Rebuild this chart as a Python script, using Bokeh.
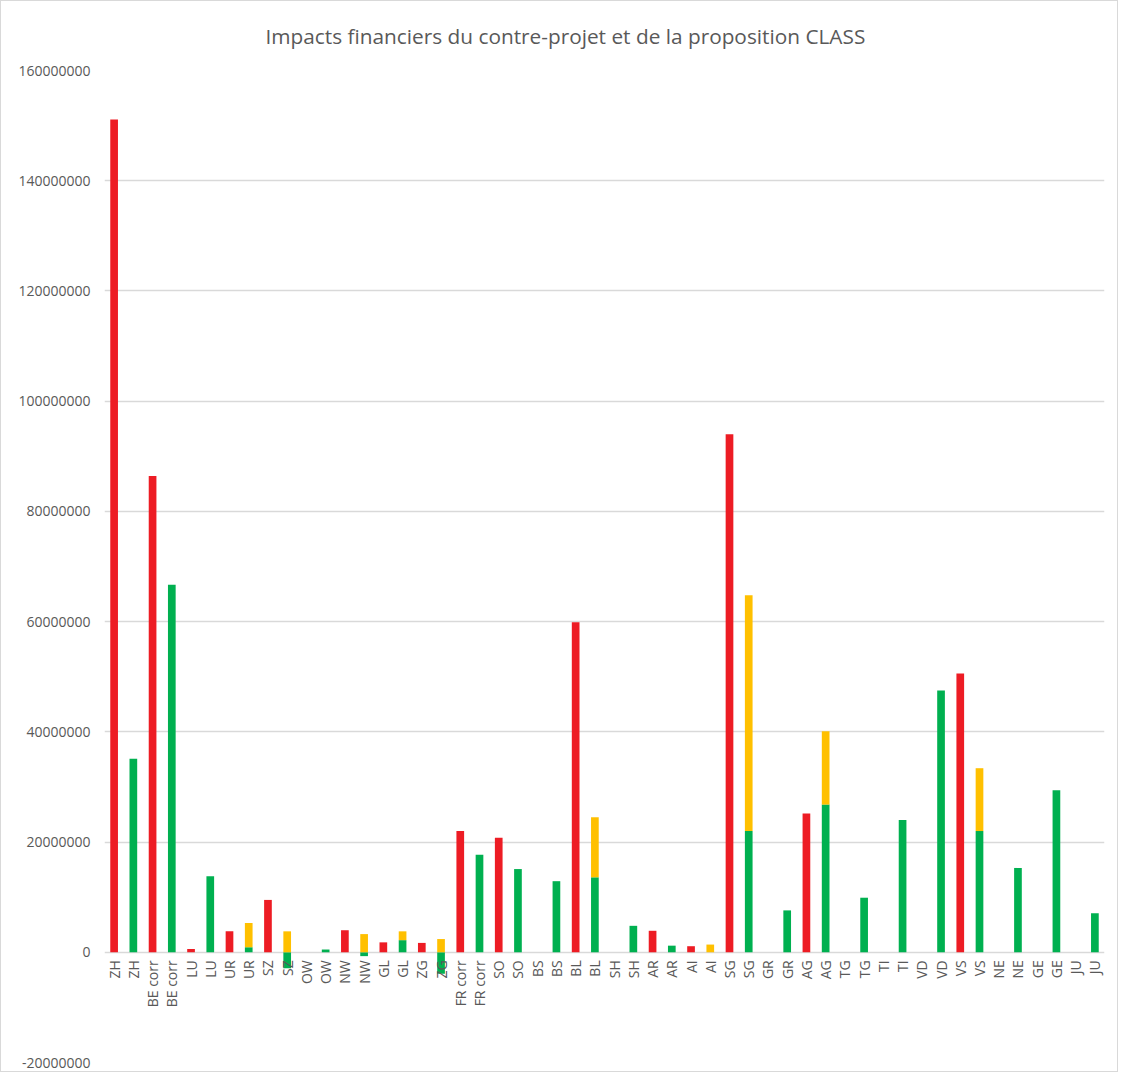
import numpy as np
from bokeh.plotting import figure
from bokeh.models import FixedTicker, NumeralTickFormatter, ColumnDataSource, Range1d, Title
from bokeh.core.properties import value
from bokeh.embed import file_html
from bokeh.resources import INLINE

title_text = "Impacts financiers du contre-projet et de la proposition CLASS"

categories = ["ZH", "ZH", "BE corr", "BE corr", "LU", "LU", "UR", "UR", "SZ", "SZ",
              "OW", "OW", "NW", "NW", "GL", "GL", "ZG", "ZG", "FR corr", "FR corr",
              "SO", "SO", "BS", "BS", "BL", "BL", "SH", "SH", "AR", "AR",
              "AI", "AI", "SG", "SG", "GR", "GR", "AG", "AG", "TG", "TG",
              "TI", "TI", "VD", "VD", "VS", "VS", "NE", "NE", "GE", "GE", "JU", "JU"]

# series values (CHF)
red_values = [151100000, 0, 86400000, 0, 600000, 0, 3800000, 0, 9500000, 0,
              0, 0, 4000000, 0, 1800000, 0, 1700000, 0, 22000000, 0,
              20800000, 0, 0, 0, 59900000, 0, 0, 0, 3900000, 0,
              1100000, 0, 94000000, 0, 0, 0, 25200000, 0, 0, 0,
              0, 0, 0, 0, 50600000, 0, 0, 0, 0, 0, 0, 0]

green_values = [0, 35100000, 0, 66700000, 0, 13800000, 0, 900000, 0, -2900000,
                0, 500000, 0, -700000, 0, 2200000, 0, -3900000, 0, 17700000,
                0, 15100000, 0, 12900000, 0, 13600000, 0, 4800000, 0, 1200000,
                0, 0, 0, 22000000, 0, 7600000, 0, 26800000, 0, 9900000,
                0, 24000000, 0, 47500000, 0, 22000000, 0, 15300000, 0, 29400000, 0, 7100000]

orange_values = [0, 0, 0, 0, 0, 0, 0, 4400000, 0, 3800000,
                 0, 0, 0, 3300000, 0, 1600000, 0, 2400000, 0, 0,
                 0, 0, 0, 0, 0, 10900000, 0, 0, 0, 0,
                 0, 1400000, 0, 42800000, 0, 0, 0, 13300000, 0, 0,
                 0, 0, 0, 0, 0, 11400000, 0, 0, 0, 0, 0, 0]

y_ticks = [-20000000, 0, 20000000, 40000000, 60000000, 80000000,
           100000000, 120000000, 140000000, 160000000]

RED = "#ED1C24"
GREEN = "#00B050"
ORANGE = "#FFC000"
TEXT = "#595959"
GRID = "#D9D9D9"
FONT = "Open Sans"

n = len(categories)
xs = np.arange(n)
red = np.array(red_values, dtype=float)
green = np.array(green_values, dtype=float)
orange = np.array(orange_values, dtype=float)
orange_bottom = np.maximum(green, 0)

src = ColumnDataSource(dict(
    x=xs, red=red, green=green,
    ob=orange_bottom, ot=orange_bottom + orange,
    zero=np.zeros(n), cat=categories,
))

W, H = 1118, 1072
FL, FR, FT, FB = 103, 1103, 69, 1061
p = figure(width=W, height=H, output_backend="svg", toolbar_location=None,
           x_range=Range1d(-0.5, n - 0.5),
           y_range=Range1d(y_ticks[0], y_ticks[-1]),
           min_border_left=FL, min_border_right=W - FR,
           min_border_top=FT, min_border_bottom=H - FB)
p.title = None
p.add_layout(Title(text=title_text, text_font=FONT, text_font_size="20.8px",
                   text_font_style="normal", text_color=TEXT, align="left",
                   vertical_align="top", offset=161, standoff=38), "above")

p.background_fill_color = "white"
p.border_fill_color = "white"
p.outline_line_color = None
p.styles = {"border": "1px solid #D9D9D9"}

bw = 0.4
p.vbar(x="x", bottom="zero", top="red", width=bw, source=src, fill_color=RED, line_color=None)
p.vbar(x="x", bottom="zero", top="green", width=bw, source=src, fill_color=GREEN, line_color=None)
p.vbar(x="x", bottom="ob", top="ot", width=bw, source=src, fill_color=ORANGE, line_color=None)

# category labels next to the zero line
p.text(x="x", y="zero", text="cat", source=src, angle=np.pi / 2,
       text_align="right", text_baseline="middle", y_offset=8,
       text_font=value(FONT), text_font_size="14px", text_color=TEXT)

p.xaxis.visible = False
p.xgrid.visible = False
p.ygrid.grid_line_color = GRID
p.ygrid.grid_line_width = 1.3
p.ygrid.ticker = FixedTicker(ticks=y_ticks)

ya = p.yaxis[0]
ya.ticker = FixedTicker(ticks=y_ticks)
ya.formatter = NumeralTickFormatter(format="0")
ya.axis_line_color = None
ya.major_tick_line_color = None
ya.minor_tick_line_color = None
ya.major_tick_out = 0
ya.major_tick_in = 0
ya.major_label_standoff = 14
ya.major_label_text_font = FONT
ya.major_label_text_font_size = "14px"
ya.major_label_text_color = TEXT

p.grid.level = "underlay"

open("out.html", "w").write(file_html(p, INLINE))
